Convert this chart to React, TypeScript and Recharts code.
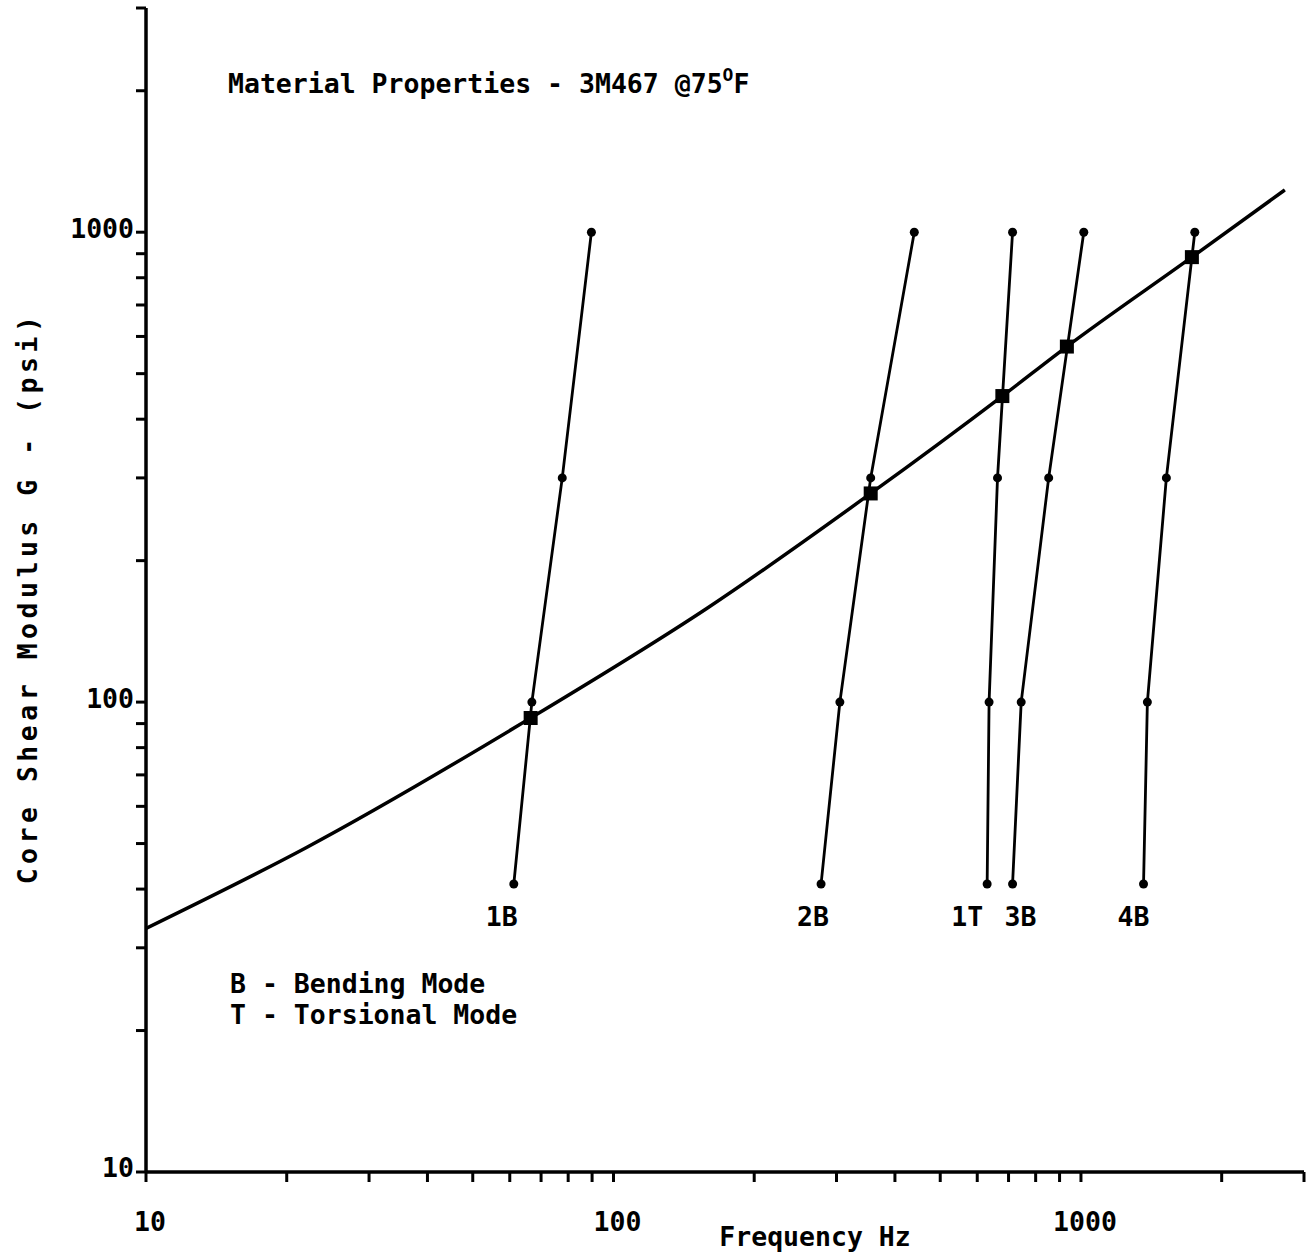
import React from "react";
import { ComposedChart, Line, XAxis, YAxis, Label } from "recharts";

// axis ticks (log decades), only the decade starts carry a number
const freqTicks = [10, 20, 30, 40, 50, 60, 70, 80, 90, 100, 200, 300, 400, 500, 600, 700, 800, 900, 1000, 2000, 3000];
const shearTicks = [10, 20, 30, 40, 50, 60, 70, 80, 90, 100, 200, 300, 400, 500, 600, 700, 800, 900, 1000, 2000, 3000];
const labeledTicks = [10, 100, 1000];

// material curve G(f) for 3M467 @75F
const curveFreq = [10, 22, 66.5, 158, 355, 679, 933, 1727, 2730];
const curveShear = [33, 49, 92.5, 158, 278, 448, 571, 885, 1230];

// mode frequencies at each assumed core shear modulus
const modeShear = [41, 100, 300, 1000];
const freq1B = [61.2, 66.9, 77.7, 89.7];
const freq2B = [278, 305, 355, 440];
const freq1T = [630, 636, 663, 714];
const freq3B = [714, 745, 853, 1014];
const freq4B = [1361, 1387, 1523, 1752];
const modeNames = ["1B", "2B", "1T", "3B", "4B"];
const modeFreqs = [freq1B, freq2B, freq1T, freq3B, freq4B];

// where the mode lines cross the material curve
const crossFreq = [66.5, 355, 679, 933, 1727];
const crossShear = [92.5, 278, 448, 571, 885];

const FONT = "'DejaVu Sans Mono', monospace";
const TEXT = { fontFamily: FONT, fontSize: 26.5, fontWeight: 700, fill: "#000" };

const toPoints = (fs: number[], gs: number[]) => fs.map((f, i) => ({ f, g: gs[i] }));

const labelShift: Record<string, number> = { "1B": -12, "2B": -8, "1T": -20, "3B": 8, "4B": -10 };

const modeLabel = (name: string) => (props: any) => {
  if (props.index !== 0) return null;
  return (
    <text key={name} x={props.x + labelShift[name]} y={props.y + 42} textAnchor="middle" style={TEXT}>
      {name}
    </text>
  );
};

const squareDot = (props: any) => (
  <rect key={`sq-${props.index}`} x={props.cx - 7} y={props.cy - 7} width={14} height={14} fill="#000" />
);

const fmt = (v: number) => (labeledTicks.includes(v) ? String(v) : "");

const App = () => {
  return (
    <div style={{ position: "relative", width: 1313, height: 1256 }}>
      <style>{"body{margin:0}"}</style>
      <ComposedChart width={1313} height={1256} margin={{ top: 8, right: 9, left: 0, bottom: 0 }}>
        <XAxis
          type="number"
          dataKey="f"
          scale="log"
          domain={[10, 3000]}
          ticks={freqTicks}
          tickFormatter={fmt}
          allowDataOverflow
          height={84}
          interval={0}
          axisLine={{ stroke: "#000", strokeWidth: 3.5 }}
          tickLine={{ stroke: "#000", strokeWidth: 3 }}
          tickSize={10}
          tickMargin={30}
          tick={{ ...TEXT, dx: 4 }}
        >
          <Label
            content={() => (
              <text x={815} y={1246} textAnchor="middle" style={TEXT}>
                Frequency Hz
              </text>
            )}
          />
        </XAxis>
        <YAxis
          type="number"
          dataKey="g"
          scale="log"
          domain={[10, 3000]}
          ticks={shearTicks}
          tickFormatter={fmt}
          allowDataOverflow
          width={146}
          interval={0}
          axisLine={{ stroke: "#000", strokeWidth: 3.5 }}
          tickLine={{ stroke: "#000", strokeWidth: 3 }}
          tickSize={10}
          tickMargin={2}
          tick={{ ...TEXT, dy: -4 }}
        >
          <Label
            content={() => (
              <text
                x={37}
                y={598}
                textAnchor="middle"
                transform="rotate(-90, 37, 598)"
                style={{ ...TEXT, letterSpacing: 4.5 }}
              >
                Core Shear Modulus G - (psi)
              </text>
            )}
          />
        </YAxis>

        <Line
          data={toPoints(curveFreq, curveShear)}
          dataKey="g"
          type="monotone"
          stroke="#000"
          strokeWidth={3.5}
          dot={false}
          isAnimationActive={false}
        />
        {modeFreqs.map((fs, i) => (
          <Line
            key={modeNames[i]}
            data={toPoints(fs, modeShear)}
            dataKey="g"
            type="linear"
            stroke="#000"
            strokeWidth={2.8}
            dot={{ r: 4.5, fill: "#000", stroke: "#000", strokeWidth: 0 }}
            label={modeLabel(modeNames[i])}
            isAnimationActive={false}
          />
        ))}
        <Line
          data={toPoints(crossFreq, crossShear)}
          dataKey="g"
          stroke="none"
          dot={squareDot}
          isAnimationActive={false}
        />
      </ComposedChart>
      <svg
        width={1313}
        height={1256}
        style={{ position: "absolute", left: 0, top: 0, pointerEvents: "none" }}
      >
        <text x={228} y={93} style={TEXT}>
          Material Properties - 3M467 @75
          <tspan fontSize={18} dy={-12}>O</tspan>
          <tspan dy={12}>F</tspan>
        </text>
        <text x={230} y={993} style={TEXT}>B - Bending Mode</text>
        <text x={230} y={1024} style={TEXT}>T - Torsional Mode</text>
      </svg>
    </div>
  );
};

export default App;
